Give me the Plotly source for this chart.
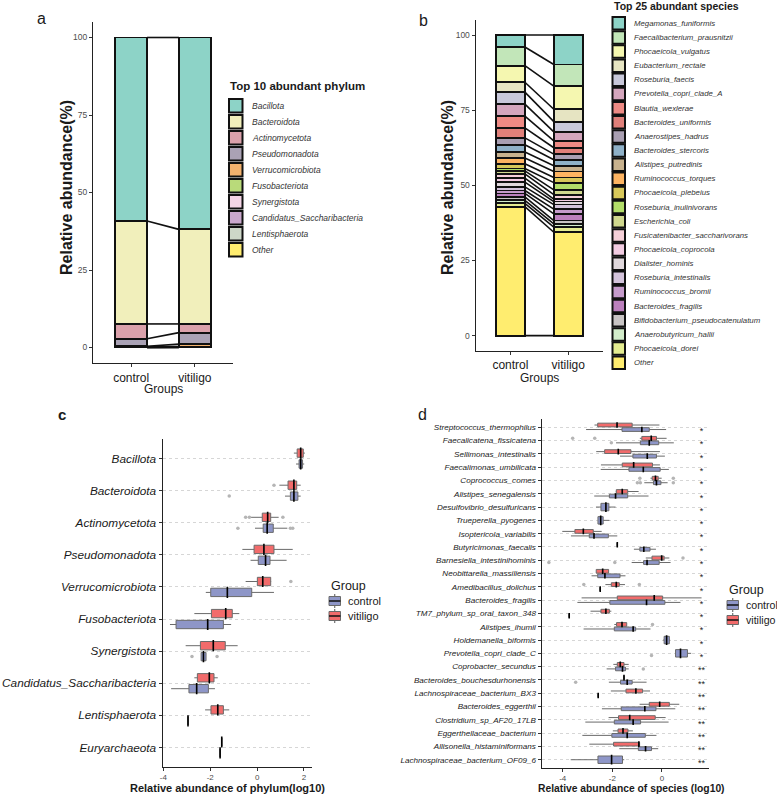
import numpy as np
import plotly.graph_objects as go

W, H = 777, 795
FONT = 'Liberation Sans, Arial, sans-serif'
RED = '#f26b6b'
BLUE = '#8e96c8'

group_names = ['control', 'vitiligo']
group_pos = [1, 2]

# ---------------- panel a: phylum composition ----------------
phylum_names = ['Bacillota', 'Bacteroidota', 'Actinomycetota', 'Pseudomonadota',
                'Verrucomicrobiota', 'Fusobacteriota', 'Synergistota',
                'Candidatus_Saccharibacteria', 'Lentisphaerota', 'Other']
phylum_colors = ['#8dd3c7', '#f1efbb', '#dba1ab', '#aaa2b5', '#f3b26e',
                 '#b9da7a', '#f4d5e6', '#caa8cd', '#cdd7c8', '#ffed6f']
phylum_control = [59.2, 33.2, 4.8, 2.4, 0.2, 0.05, 0.05, 0.05, 0.03, 0.02]
phylum_vitiligo = [61.9, 30.5, 2.8, 3.7, 0.8, 0.1, 0.05, 0.05, 0.05, 0.05]

# ---------------- panel b: species composition ----------------
species_names = ['Megamonas_funiformis', 'Faecalibacterium_prausnitzii', 'Phocaeicola_vulgatus',
                 'Eubacterium_rectale', 'Roseburia_faecis', 'Prevotella_copri_clade_A',
                 'Blautia_wexlerae', 'Bacteroides_uniformis', 'Anaerostipes_hadrus',
                 'Bacteroides_stercoris', 'Alistipes_putredinis', 'Ruminococcus_torques',
                 'Phocaeicola_plebeius', 'Roseburia_inulinivorans', 'Escherichia_coli',
                 'Fusicatenibacter_saccharivorans', 'Phocaeicola_coprocola', 'Dialister_hominis',
                 'Roseburia_intestinalis', 'Ruminococcus_bromii', 'Bacteroides_fragilis',
                 'Bifidobacterium_pseudocatenulatum', 'Anaerobutyricum_hallii', 'Phocaeicola_dorei',
                 'Other']
species_colors = ['#8dd3c7', '#c2e6b9', '#f5f7b0', '#e6e4c2', '#c8c8da', '#d4a6bd',
                  '#ee8a84', '#e0807a', '#a99fb2', '#8fb1c8', '#c8b28e', '#fdb462',
                  '#d8c85a', '#b3de69', '#d0d88e', '#f5d0d8', '#f2cce2', '#e0d8dc',
                  '#d3c3db', '#c59bcb', '#bc80bd', '#c8c4c4', '#d2ecca', '#e4ec90',
                  '#ffed6f']
species_control = [4.0, 6.2, 5.5, 3.3, 4.0, 4.0, 3.9, 3.3, 2.3, 2.4, 2.0, 1.9, 1.6,
                   0.8, 1.0, 1.4, 1.3, 1.6, 1.2, 1.0, 1.1, 1.2, 1.0, 1.1, 42.9]
species_vitiligo = [9.8, 7.2, 7.7, 4.1, 3.4, 3.0, 2.3, 2.1, 1.9, 2.0, 1.9, 2.0, 1.7,
                    2.4, 1.6, 1.5, 0.8, 1.0, 1.5, 1.6, 2.2, 1.1, 1.1, 1.7, 34.4]

# ---------------- panel c: phylum log10 abundance (lo, q1, median, q3, hi) ----------------
c_names = ['Bacillota', 'Bacteroidota', 'Actinomycetota', 'Pseudomonadota', 'Verrucomicrobiota',
           'Fusobacteriota', 'Synergistota', 'Candidatus_Saccharibacteria', 'Lentisphaerota',
           'Euryarchaeota']
c_vitiligo = [(1.57, 1.71, 1.86, 1.97, 2.04), (0.95, 1.32, 1.57, 1.69, 1.86),
              (-0.30, 0.22, 0.45, 0.58, 0.92), (-0.63, -0.13, 0.29, 0.72, 1.52),
              (-0.49, 0.01, 0.24, 0.58, 0.60), (-2.68, -1.95, -1.34, -1.06, -0.76),
              (-3.05, -2.42, -1.87, -1.36, -0.83), (-2.68, -2.55, -2.04, -1.84, -1.68),
              (-2.22, -1.97, -1.68, -1.44, -1.19), (-1.51, -1.51, -1.51, -1.51, -1.51)]
c_control = [(1.66, 1.79, 1.86, 1.94, 2.01), (1.19, 1.42, 1.57, 1.74, 1.86),
             (-0.09, 0.26, 0.43, 0.69, 1.29), (-0.28, 0.05, 0.36, 0.55, 1.26),
             (-2.19, -1.98, -1.27, -0.23, 0.72), (-3.72, -3.46, -2.11, -1.44, -1.11),
             (-2.39, -2.39, -2.29, -2.18, -2.18), (-3.67, -2.91, -2.58, -2.08, -1.80),
             (-2.95, -2.95, -2.95, -2.95, -2.95), (-1.58, -1.58, -1.58, -1.58, -1.58)]
c_out_vit_names = ['Bacteroidota', 'Actinomycetota', 'Actinomycetota', 'Actinomycetota', 'Verrucomicrobiota']
c_out_vit_vals = [0.72, -0.49, -0.33, 1.10, 1.44]
c_out_ctl_names = ['Bacteroidota', 'Actinomycetota', 'Actinomycetota', 'Actinomycetota',
                   'Synergistota', 'Synergistota']
c_out_ctl_vals = [-1.19, -0.82, 1.42, 1.52, -2.78, -1.71]

# ---------------- panel d: species log10 abundance ----------------
d_names = ['Streptococcus_thermophilus', 'Faecalicatena_fissicatena', 'Sellimonas_intestinalis',
           'Faecalimonas_umbilicata', 'Coprococcus_comes', 'Alistipes_senegalensis',
           'Desulfovibrio_desulfuricans', 'Trueperella_pyogenes', 'Isoptericola_variabilis',
           'Butyricimonas_faecalis', 'Barnesiella_intestinihominis', 'Neobittarella_massiliensis',
           'Amedibacillus_dolichus', 'Bacteroides_fragilis', 'TM7_phylum_sp_oral_taxon_348',
           'Alistipes_ihumii', 'Holdemanella_biformis', 'Prevotella_copri_clade_C',
           'Coprobacter_secundus', 'Bacteroides_bouchesdurhonensis', 'Lachnospiraceae_bacterium_BX3',
           'Bacteroides_eggerthii', 'Clostridium_sp_AF20_17LB', 'Eggerthellaceae_bacterium',
           'Allisonella_histaminiformans', 'Lachnospiraceae_bacterium_OF09_6']
d_signif = ['*'] * 18 + ['**'] * 8
d_vitiligo = [(-2.72, -2.59, -1.81, -1.20, -0.10), (-0.89, -0.81, -0.43, -0.22, 0.19),
              (-2.65, -2.31, -1.76, -1.25, -0.08), (-2.46, -1.60, -1.14, -0.38, -0.08),
              (-0.46, -0.39, -0.26, -0.15, -0.01), (-1.86, -1.84, -1.60, -1.38, -0.94),
              None, None,
              (-4.02, -3.51, -3.17, -2.77, -2.43), (-1.80, -1.80, -1.80, -1.80, -1.80),
              (-0.65, -0.40, -0.01, 0.09, 0.30), (-2.65, -2.65, -2.39, -2.15, -2.15),
              (-2.28, -2.04, -1.84, -1.72, -1.49), (-3.24, -1.80, -0.31, 0.03, 1.60),
              (-2.88, -2.46, -2.26, -2.12, -2.04), (-1.92, -1.83, -1.61, -1.42, -1.42),
              None, None,
              (-1.96, -1.80, -1.68, -1.53, -1.34), (-1.53, -1.53, -1.53, -1.53, -1.53),
              (-2.06, -1.45, -1.05, -0.78, -0.48), (-0.90, -0.51, -0.09, 0.30, 0.70),
              (-2.15, -1.75, -1.30, -0.27, 0.15), (-1.98, -1.77, -1.57, -1.37, -1.17),
              (-2.93, -1.95, -0.93, -0.90, -0.90), None]
d_control = [(-3.06, -1.61, -0.81, -0.51, 0.17), (-1.85, -0.87, -0.51, -0.13, 0.48),
             (-1.69, -1.17, -0.59, -0.22, 0.12), (-2.47, -1.33, -0.75, -0.07, 0.28),
             (-0.71, -0.34, -0.22, -0.04, 0.23), (-2.73, -2.12, -1.87, -1.38, -0.54),
             (-2.66, -2.46, -2.26, -2.14, -1.87), (-2.58, -2.58, -2.47, -2.37, -2.12),
             (-3.67, -2.93, -2.74, -2.16, -1.80), (-1.13, -0.89, -0.73, -0.48, -0.24),
             (-1.22, -0.74, -0.60, -0.11, 0.35), (-2.84, -2.59, -2.30, -1.69, -1.47),
             (-2.49, -2.49, -2.49, -2.49, -2.49), (-3.41, -2.10, -0.62, 0.12, 0.75),
             (-3.74, -3.74, -3.74, -3.74, -3.74), (-3.16, -1.92, -1.16, -1.06, -0.46),
             (0.05, 0.09, 0.19, 0.30, 0.33), (0.55, 0.55, 0.75, 1.03, 1.18),
             (-2.23, -1.87, -1.59, -1.47, -1.34), (-2.14, -1.67, -1.40, -1.20, -0.62),
             (-2.57, -2.57, -2.57, -2.57, -2.57), (-2.42, -1.64, -0.69, -0.24, 0.54),
             (-3.09, -1.92, -1.16, -0.86, 0.27), (-3.21, -2.02, -1.40, -0.67, -0.22),
             (-1.72, -0.95, -0.66, -0.42, -0.15), (-3.68, -2.58, -2.03, -1.59, -1.52)]
d_out_vit_names = ['Faecalicatena_fissicatena', 'Faecalicatena_fissicatena', 'Coprococcus_comes',
                   'Coprococcus_comes', 'Barnesiella_intestinihominis', 'Amedibacillus_dolichus',
                   'Amedibacillus_dolichus', 'Alistipes_ihumii']
d_out_vit_vals = [-3.60, -2.71, -0.89, 0.46, 0.85, -3.15, -0.91, -0.38]
d_out_ctl_names = ['Faecalicatena_fissicatena', 'Coprococcus_comes', 'Coprococcus_comes',
                   'Coprococcus_comes', 'Barnesiella_intestinihominis', 'Barnesiella_intestinihominis',
                   'Prevotella_copri_clade_C', 'Coprobacter_secundus', 'Bacteroides_bouchesdurhonensis']
d_out_ctl_vals = [-2.04, -0.99, -0.87, 0.46, -4.56, -1.90, -0.42, -0.75, -3.48]


def fx(px):
    return px / W


def fy(py):
    return 1 - py / H


fig = go.Figure()


def add_stack(names, colors, ctl, vit, xa, ya):
    for name, col, c, v in reversed(list(zip(names, colors, ctl, vit))):
        fig.add_trace(go.Bar(x=group_pos, y=[c, v], width=0.5, name=name,
                             marker=dict(color=col, line=dict(color='#111111', width=1.8)),
                             xaxis=xa, yaxis=ya, showlegend=False))
    cum_c = np.concatenate([[0], np.cumsum(ctl[::-1])])
    cum_v = np.concatenate([[0], np.cumsum(vit[::-1])])
    xs, ys = [], []
    for a, b in zip(cum_c, cum_v):
        xs += [1.25, 1.75, None]
        ys += [a, b, None]
    fig.add_trace(go.Scatter(x=xs, y=ys, mode='lines', line=dict(color='#111111', width=1.6),
                             xaxis=xa, yaxis=ya, showlegend=False, hoverinfo='skip'))


add_stack(phylum_names, phylum_colors, phylum_control, phylum_vitiligo, 'x', 'y')
add_stack(species_names, species_colors, species_control, species_vitiligo, 'x2', 'y2')


def add_boxes(stats, pos, color, width, hpx, xa, ya, name):
    fig.add_trace(go.Box(
        orientation='h', y=pos,
        lowerfence=[s[0] for s in stats], q1=[s[1] for s in stats],
        median=[s[2] for s in stats], q3=[s[3] for s in stats],
        upperfence=[s[4] for s in stats],
        width=width, fillcolor=color, line=dict(color='#6a6a6a', width=1),
        whiskerwidth=0, boxpoints=False, name=name,
        showlegend=False, xaxis=xa, yaxis=ya, hoverinfo='skip'))
    fig.add_trace(go.Scatter(
        x=[s[2] for s in stats], y=pos, mode='markers',
        marker=dict(symbol='line-ns', size=hpx, color='black', line=dict(color='black', width=1.6)),
        xaxis=xa, yaxis=ya, showlegend=False, hoverinfo='skip'))


def add_outliers(names, vals, order, off, xa, ya):
    fig.add_trace(go.Scatter(
        x=vals, y=[order.index(n) + off for n in names], mode='markers',
        marker=dict(color='#b5b5b5', size=3.5), xaxis=xa, yaxis=ya,
        showlegend=False, hoverinfo='skip'))


DODGE = 0.17
# panel c
idx = list(range(len(c_names)))
add_boxes(c_control, [i + DODGE for i in idx], BLUE, 0.26, 8, 'x3', 'y3', 'control')
add_boxes(c_vitiligo, [i - DODGE for i in idx], RED, 0.26, 8, 'x3', 'y3', 'vitiligo')
add_outliers(c_out_vit_names, c_out_vit_vals, c_names, -DODGE, 'x3', 'y3')
add_outliers(c_out_ctl_names, c_out_ctl_vals, c_names, DODGE, 'x3', 'y3')

# panel d
both = [i for i in range(len(d_names)) if d_vitiligo[i] is not None]
single = [i for i in range(len(d_names)) if d_vitiligo[i] is None]
add_boxes([d_control[i] for i in both], [i + DODGE for i in both], BLUE, 0.28, 4, 'x4', 'y4', 'control')
add_boxes([d_control[i] for i in single], single, BLUE, 0.56, 7, 'x4', 'y4', 'control')
add_boxes([d_vitiligo[i] for i in both], [i - DODGE for i in both], RED, 0.28, 4, 'x4', 'y4', 'vitiligo')
add_outliers(d_out_vit_names, d_out_vit_vals, d_names, -DODGE, 'x4', 'y4')
add_outliers(d_out_ctl_names, d_out_ctl_vals, d_names, DODGE, 'x4', 'y4')
fig.add_trace(go.Scatter(x=[1.6] * len(d_names), y=list(range(len(d_names))), mode='text',
                         text=d_signif, textposition='bottom center',
                         textfont=dict(size=9, color='#222222'),
                         xaxis='x4', yaxis='y4', showlegend=False, hoverinfo='skip'))

# ---------------- axes ----------------
axis_common = dict(showline=True, linecolor='#222222', linewidth=1.3, ticks='outside',
                   ticklen=3, tickcolor='#333333', tickwidth=1, zeroline=False, showgrid=False,
                   automargin=False, fixedrange=True)
num_font = dict(size=8.5, color='#4d4d4d')
cat_font = dict(size=12, color='#1a1a1a')

fig.update_layout(
    xaxis=dict(axis_common, domain=[fx(93), fx(233)], anchor='y', range=[0.4, 2.6],
               tickvals=group_pos, ticktext=group_names, tickfont=cat_font),
    yaxis=dict(axis_common, domain=[fy(363), fy(22)], anchor='x', range=[-5, 105],
               tickvals=[0, 25, 50, 75, 100], tickfont=num_font),
    xaxis2=dict(axis_common, domain=[fx(475.7), fx(603)], anchor='y2', range=[0.4, 2.6],
                tickvals=group_pos, ticktext=group_names, tickfont=cat_font),
    yaxis2=dict(axis_common, domain=[fy(350.7), fy(20)], anchor='x2', range=[-5, 105],
                tickvals=[0, 25, 50, 75, 100], tickfont=num_font),
    xaxis3=dict(axis_common, domain=[fx(162.7), fx(311.7)], anchor='y3', range=[-4.03, 2.33],
                tickvals=[-4, -2, 0, 2], ticktext=['-4', '-2', '0', '2'],
                tickfont=dict(size=8, color='#4d4d4d')),
    yaxis3=dict(axis_common, domain=[fy(766.7), fy(439.3)], anchor='x3', range=[9.6, -0.6],
                tickvals=idx, ticktext=c_names, showgrid=True, gridcolor='#d6d6d6',
                griddash='dot', gridwidth=1,
                tickfont=dict(size=11.8, color='#1a1a1a', style='italic')),
    xaxis4=dict(axis_common, domain=[fx(541.7), fx(709)], anchor='y4', range=[-4.85, 1.9],
                tickvals=[-4, -2, 0], ticktext=['-4', '-2', '0'],
                tickfont=dict(size=8, color='#4d4d4d')),
    yaxis4=dict(axis_common, domain=[fy(767.7), fy(419.3)], anchor='x4', range=[25.6, -0.6],
                tickvals=list(range(len(d_names))), ticktext=d_names, showgrid=True,
                gridcolor='#d6d6d6', griddash='dot', gridwidth=1,
                tickfont=dict(size=8.1, color='#1a1a1a', style='italic')),
)

shapes, annotations = [], []


def label(t, x, y, size, bold=False, angle=0, anchor='center', color='#1a1a1a', italic=False):
    annotations.append(dict(text='<b>%s</b>' % t if bold else t, x=fx(x), y=fy(y), xref='paper',
                            yref='paper', xanchor=anchor, yanchor='middle', showarrow=False,
                            textangle=angle,
                            font=dict(size=size, color=color, style='italic' if italic else 'normal')))


def rect(x0, x1, y0, y1, fill, line_color, lw):
    shapes.append(dict(type='rect', xref='paper', yref='paper', x0=fx(x0), x1=fx(x1),
                       y0=fy(y1), y1=fy(y0), fillcolor=fill, line=dict(color=line_color, width=lw)))


def seg(x0, y0, x1, y1, color, lw):
    shapes.append(dict(type='line', xref='paper', yref='paper', x0=fx(x0), x1=fx(x1),
                       y0=fy(y0), y1=fy(y1), line=dict(color=color, width=lw)))


def fill_legend(title, names, colors, x0, y0, ty, step, key, tsize, fsize):
    label(title, x0 - 1, ty, tsize, bold=True, anchor='left')
    for i, (n, c) in enumerate(zip(names, colors)):
        cy = y0 + i * step
        rect(x0, x0 + key, cy - key / 2, cy + key / 2, c, '#111111', 2)
        label(n, x0 + key + 7, cy, fsize, anchor='left', color='#333333', italic=True)


def group_legend(x0, ty, y0, step, key, fsize):
    label('Group', x0, ty, 12.5, anchor='left')
    for i, (n, c) in enumerate(zip(group_names, [BLUE, RED])):
        cy = y0 + i * step
        cx = x0 + key / 2
        seg(cx, cy - 7, cx, cy + 7, '#555555', 1)
        rect(x0, x0 + key, cy - 4.5, cy + 4.5, c, '#6a6a6a', 1)
        seg(x0, cy, x0 + key, cy, '#111111', 1.5)
        label(n, x0 + key + 5, cy, fsize, anchor='left')


fill_legend('Top 10 abundant phylum', phylum_names, phylum_colors, 229, 105.7, 86, 16, 13.5, 11.5, 8.5)
fill_legend('Top 25 abundant species', species_names, species_colors, 612.5, 23.3, 6, 14.14, 12.5, 10.5, 7.8)
group_legend(329, 586, 601, 15, 11.5, 11)
group_legend(727, 590, 605, 15, 11.5, 10.6)

label('a', 41, 19, 16)
label('b', 423, 21, 16)
label('c', 62, 414, 15, bold=True)
label('d', 422, 414, 16)
label('Relative abundance(%)', 67, 188, 16, bold=True, angle=-90)
label('Relative abundance(%)', 448, 188, 16, bold=True, angle=-90)
label('Groups', 163, 389, 12)
label('Groups', 539, 378, 12)
label('Relative abundance of phylum(log10)', 227, 788, 11, bold=True)
label('Relative abundance of species (log10)', 631, 788, 10.3, bold=True)

fig.update_layout(
    width=W, height=H, margin=dict(l=0, r=0, t=0, b=0, autoexpand=False),
    paper_bgcolor='white', plot_bgcolor='white',
    font=dict(family=FONT, color='#1a1a1a'),
    barmode='stack', boxmode='overlay', showlegend=False,
    shapes=shapes, annotations=annotations,
)

fig.write_html("out.html", config={'displayModeBar': False},
               post_script="document.body.style.margin='0';")
